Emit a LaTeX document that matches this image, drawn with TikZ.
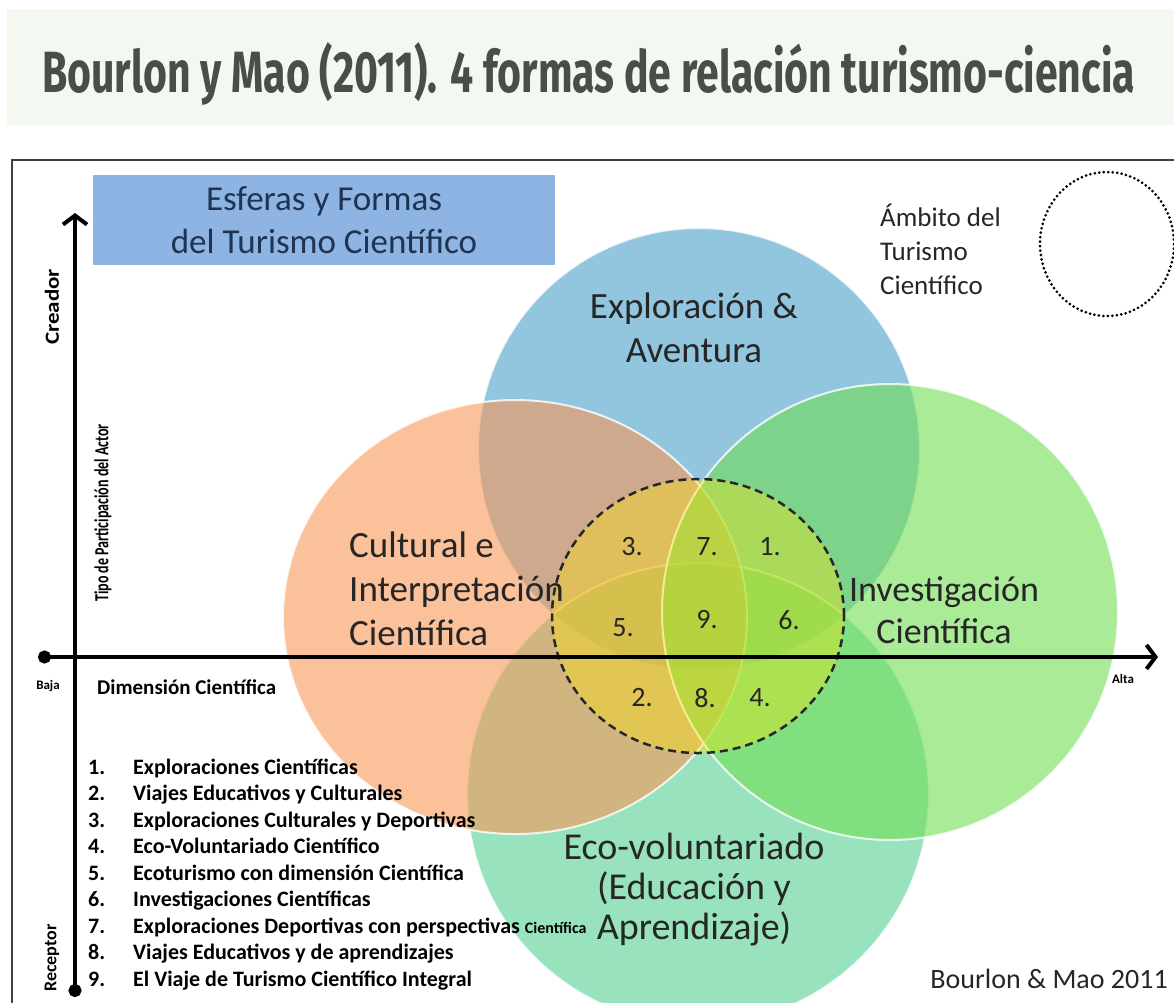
\documentclass[tikz,border=0pt]{standalone}
\usepackage{fontspec}
\setmainfont{Carlito}
\newfontfamily\titlefont{Fira Sans}
\usetikzlibrary{arrows.meta, positioning}

\definecolor{bandgreen}{HTML}{F3F8F1}
\definecolor{titlegray}{HTML}{4A4D48}
\definecolor{framegray}{HTML}{404040}
\definecolor{boxblue}{HTML}{8DB4E2}
\definecolor{navy}{HTML}{1F3452}
\definecolor{labelgray}{HTML}{262626}
\definecolor{blueball}{HTML}{499EC8}
\definecolor{orangeball}{HTML}{F79857}
\definecolor{greenball}{HTML}{71DE53}
\definecolor{tealball}{HTML}{53CF93}
\definecolor{coreyellow}{HTML}{FFE600}

\begin{document}
\begin{tikzpicture}[
    x=1pt, y=-1pt,
    ball/.style={draw=white, line width=2pt, fill opacity=0.6, draw opacity=0.8},
    sphere/.style={align=center, inner sep=0, text=labelgray, font=\fontsize{37}{44}\selectfont},
    num/.style={inner sep=0, text=labelgray, font=\fontsize{28}{30}\selectfont},
    axis/.style={line width=4pt, {Circle[length=13pt]}-{Straight Barb[length=9pt,width=24pt,line width=4pt]}},
    axislabel/.style={inner sep=0, font=\bfseries\fontsize{20}{22}\selectfont},
    item/.style={anchor=base west, inner sep=0, font=\bfseries\fontsize{22}{24}\selectfont}
]
    \useasboundingbox (0,0) rectangle (1174,1002);

    % Title band
    \fill[bandgreen] (7,9) rectangle (1180,125);
    \node[inner sep=0, anchor=base west, text=titlegray] (title) at (42,92)
        {\resizebox{1093pt}{50pt}{\titlefont\bfseries Bourlon y Mao (2011). 4 formas de relación turismo-ciencia}};

    % Frame
    \draw[framegray, line width=2.5pt] (12,1010) -- (12,160) -- (1180,160);

    % Spheres
    \path[ball, fill=blueball] (699,449) circle[radius=221pt];
    \path[ball, fill=tealball] (698,794) circle[radius=231pt];
    \path[ball, fill=orangeball] (515,617) ellipse[x radius=232pt, y radius=217pt];
    \path[ball, fill=greenball] (890,612) circle[radius=228pt];

    % Core of scientific tourism
    \draw[black!85, line width=2.5pt, dash pattern=on 8pt off 5pt, fill=coreyellow, fill opacity=0.35]
        (698,616) ellipse[x radius=146pt, y radius=137pt];

    % Sphere labels
    \node[sphere] (explora) at (694,328) {Exploración \&\\Aventura};
    \node[sphere, align=left, anchor=west] (cultural) at (349,589) {Cultural e\\Interpretación\\Científica};
    \node[sphere, font=\fontsize{36}{42}\selectfont] (investiga) at (944,610) {Investigación\\Científica};
    \node[sphere, font=\fontsize{38}{40}\selectfont] (ecovol) at (694,890) {Eco-voluntariado\\(Educación y\\Aprendizaje)};

    % Numbered forms
    \node[num] (n3) at (632,547) {3.};
    \node[num] (n7) at (707,547) {7.};
    \node[num] (n1) at (770,547) {1.};
    \node[num] (n5) at (623,628) {5.};
    \node[num] (n9) at (707,620) {9.};
    \node[num] (n6) at (789,620) {6.};
    \node[num] (n2) at (642,698) {2.};
    \node[num] (n8) at (705,698) {8.};
    \node[num] (n4) at (760,698) {4.};

    % Caption box
    \node[fill=boxblue, minimum width=462pt, minimum height=90pt, inner sep=0, text=navy,
        align=center, font=\fontsize{35}{43}\selectfont] (esferas) at (324,220)
        {Esferas y Formas\\del Turismo Científico};

    % Scope legend
    \node[inner sep=0, anchor=north west, align=left, text=labelgray,
        font=\fontsize{27}{34}\selectfont] (ambito) at (880,204) {Ámbito del\\Turismo\\Científico};
    \draw[black, line width=3pt, line cap=round, dash pattern=on 0pt off 4.5pt]
        (1107,244) ellipse[x radius=67pt, y radius=72pt];

    % Axes
    \coordinate (xlow) at (38,657);
    \coordinate (xhigh) at (1158,657);
    \coordinate (ylow) at (75,997);
    \coordinate (yhigh) at (75,213);
    \draw[axis] (xlow) -- (xhigh);
    \draw[axis] (ylow) -- (yhigh);

    % Axis labels
    \node[axislabel, font=\bfseries\fontsize{13}{14}\selectfont] (baja) at (48,686) {Baja};
    \node[axislabel, font=\bfseries\fontsize{13}{14}\selectfont] (alta) at (1123,679) {Alta};
    \node[axislabel, anchor=west, font=\bfseries\fontsize{21}{22}\selectfont] (dimension) at (97,687) {Dimensión Científica};
    \node[axislabel, rotate=90, xscale=1.15] (creador) at (52,307) {Creador};
    \node[axislabel, rotate=90, xscale=0.7] (tipo) at (103,513) {Tipo de Participación del Actor};
    \node[axislabel, rotate=90, font=\bfseries\fontsize{18}{20}\selectfont] (receptor) at (52,958) {Receptor};

    % List of forms
    \node[item] (it1) at (88,774) {\makebox[45pt][l]{1.}Exploraciones Científicas};
    \node[item] (it2) at (88,800.5) {\makebox[45pt][l]{2.}Viajes Educativos y Culturales};
    \node[item] (it3) at (88,827) {\makebox[45pt][l]{3.}Exploraciones Culturales y Deportivas};
    \node[item] (it4) at (88,853.5) {\makebox[45pt][l]{4.}Eco-Voluntariado Científico};
    \node[item] (it5) at (88,880) {\makebox[45pt][l]{5.}Ecoturismo con dimensión Científica};
    \node[item] (it6) at (88,906.5) {\makebox[45pt][l]{6.}Investigaciones Científicas};
    \node[item] (it7) at (88,933) {\makebox[45pt][l]{7.}Exploraciones Deportivas con perspectivas {\fontsize{16}{16}\selectfont Científica}};
    \node[item] (it8) at (88,959.5) {\makebox[45pt][l]{8.}Viajes Educativos y de aprendizajes};
    \node[item] (it9) at (88,986) {\makebox[45pt][l]{9.}El Viaje de Turismo Científico Integral};

    % Source
    \node[inner sep=0, anchor=base east, text=labelgray, font=\fontsize{28}{30}\selectfont] (fuente) at (1168,988) {Bourlon \& Mao 2011};
\end{tikzpicture}
\end{document}
